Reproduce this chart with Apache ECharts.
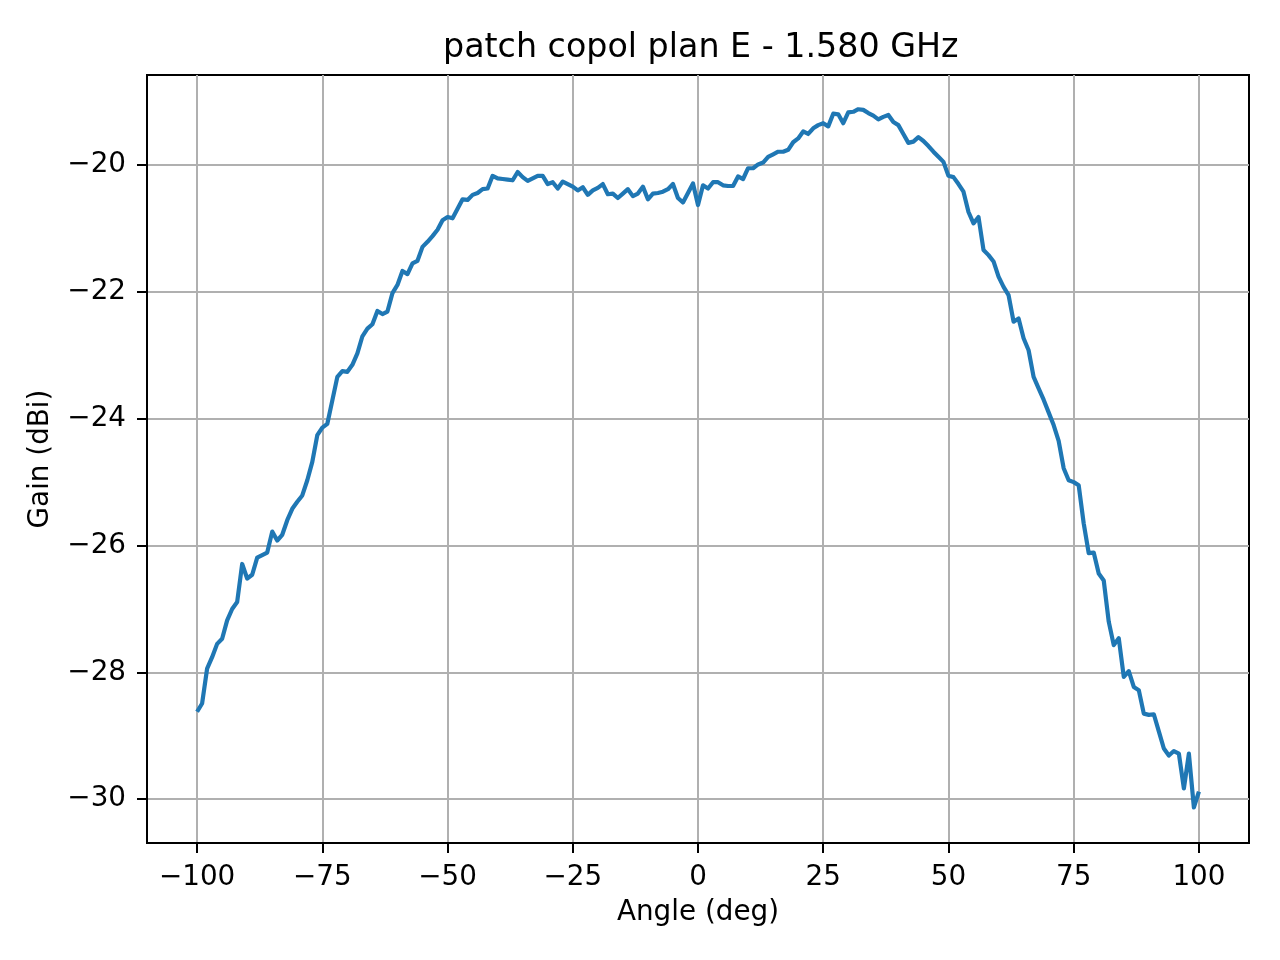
<!DOCTYPE html>
<html>
<head>
<meta charset="utf-8">
<script src="https://cdn.jsdelivr.net/npm/echarts@6/dist/echarts.min.js"></script>
<style>
html,body{margin:0;padding:0;background:#fff;}
#chart{width:1280px;height:960px;}
</style>
</head>
<body>
<div id="chart"></div>
<script>
var angles = [];
for (var a = -100; a <= 100; a++) angles.push(a);

var gain = [
-28.62,-28.49,-27.94,-27.76,-27.55,-27.47,-27.18,-27.00,-26.89,-26.29,
-26.52,-26.46,-26.19,-26.15,-26.11,-25.78,-25.92,-25.83,-25.60,-25.42,
-25.31,-25.21,-24.97,-24.68,-24.26,-24.14,-24.08,-23.71,-23.34,-23.25,
-23.26,-23.15,-22.97,-22.70,-22.58,-22.51,-22.30,-22.35,-22.31,-22.02,
-21.89,-21.67,-21.72,-21.55,-21.51,-21.29,-21.21,-21.12,-21.02,-20.87,
-20.82,-20.84,-20.69,-20.54,-20.55,-20.47,-20.44,-20.38,-20.37,-20.17,
-20.21,-20.22,-20.23,-20.24,-20.11,-20.19,-20.25,-20.21,-20.17,-20.17,
-20.30,-20.27,-20.37,-20.26,-20.30,-20.34,-20.40,-20.35,-20.47,-20.40,
-20.36,-20.30,-20.46,-20.45,-20.52,-20.45,-20.38,-20.49,-20.45,-20.34,
-20.54,-20.45,-20.44,-20.42,-20.38,-20.30,-20.52,-20.59,-20.44,-20.29,
-20.63,
-20.32,-20.37,-20.27,-20.27,-20.32,-20.33,-20.33,-20.18,-20.22,-20.05,
-20.05,-19.99,-19.96,-19.87,-19.83,-19.79,-19.79,-19.76,-19.64,-19.58,
-19.47,-19.51,-19.42,-19.37,-19.34,-19.39,-19.19,-19.20,-19.34,-19.17,
-19.16,-19.12,-19.13,-19.18,-19.22,-19.28,-19.24,-19.21,-19.32,-19.37,
-19.51,-19.65,-19.63,-19.56,-19.62,-19.70,-19.79,-19.87,-19.95,-20.17,
-20.19,-20.30,-20.42,-20.74,-20.92,-20.82,-21.34,-21.42,-21.52,-21.76,
-21.92,-22.05,-22.47,-22.42,-22.73,-22.92,-23.34,-23.52,-23.70,-23.90,
-24.10,-24.35,-24.78,-24.97,-25.00,-25.05,-25.65,-26.12,-26.11,-26.44,
-26.55,-27.20,-27.57,-27.46,-28.07,-27.98,-28.23,-28.28,-28.65,-28.67,
-28.66,-28.93,-29.20,-29.31,-29.24,-29.28,-29.83,-29.28,-30.13,-29.88
];

var xTicks = [-100, -75, -50, -25, 0, 25, 50, 75, 100];
var yTicks = [-30, -28, -26, -24, -22, -20];

var titleText = 'patch copol plan E - 1.580 GHz';
var xName = 'Angle (deg)';
var yName = 'Gain (dBi)';

var data = angles.map(function (x, i) { return [x, gain[i]]; });

function fmt(v) {
  var s = String(Math.round(v));
  return s.replace('-', '\u2212');
}

var FONT = 'DejaVu Sans';
var chart = echarts.init(document.getElementById('chart'), null, {renderer: 'canvas'});
chart.setOption({
  backgroundColor: '#ffffff',
  animation: false,
  title: {
    text: titleText,
    left: 438,
    top: 27,
    textStyle: {fontFamily: FONT, fontSize: 33.3, fontWeight: 'normal', color: '#000'}
  },
  grid: {
    left: 147, right: 31, top: 75, bottom: 117,
    show: true, borderColor: '#000', borderWidth: 2, backgroundColor: 'transparent'
  },
  xAxis: {
    type: 'value',
    min: -110, max: 110,
    name: xName,
    nameLocation: 'middle',
    nameGap: 56,
    nameTextStyle: {fontFamily: FONT, fontSize: 27.8, color: '#000'},
    axisLine: {show: true, onZero: false, lineStyle: {color: '#000', width: 2}},
    axisTick: {show: true, inside: false, length: 10, customValues: xTicks, lineStyle: {color: '#000', width: 2}},
    axisLabel: {customValues: xTicks, margin: 21, formatter: fmt, fontFamily: FONT, fontSize: 27.8, color: '#000'},
    splitLine: {show: true, lineStyle: {color: '#b0b0b0', width: 2}}
  },
  yAxis: {
    type: 'value',
    min: -30.69, max: -18.58,
    name: yName,
    nameLocation: 'middle',
    nameRotate: 90,
    nameGap: 92,
    nameTextStyle: {fontFamily: FONT, fontSize: 27.8, color: '#000'},
    axisLine: {show: true, onZero: false, lineStyle: {color: '#000', width: 2}},
    axisTick: {show: true, inside: false, length: 10, customValues: yTicks, lineStyle: {color: '#000', width: 2}},
    axisLabel: {customValues: yTicks, margin: 21, formatter: fmt, fontFamily: FONT, fontSize: 27.8, color: '#000'},
    splitLine: {show: true, lineStyle: {color: '#b0b0b0', width: 2}}
  },
  series: [{
    type: 'line',
    data: data,
    showSymbol: false,
    symbol: 'none',
    lineStyle: {color: '#1f77b4', width: 4.2, join: 'round', cap: 'butt'},
    itemStyle: {color: '#1f77b4'}
  }]
});
</script>
</body>
</html>
